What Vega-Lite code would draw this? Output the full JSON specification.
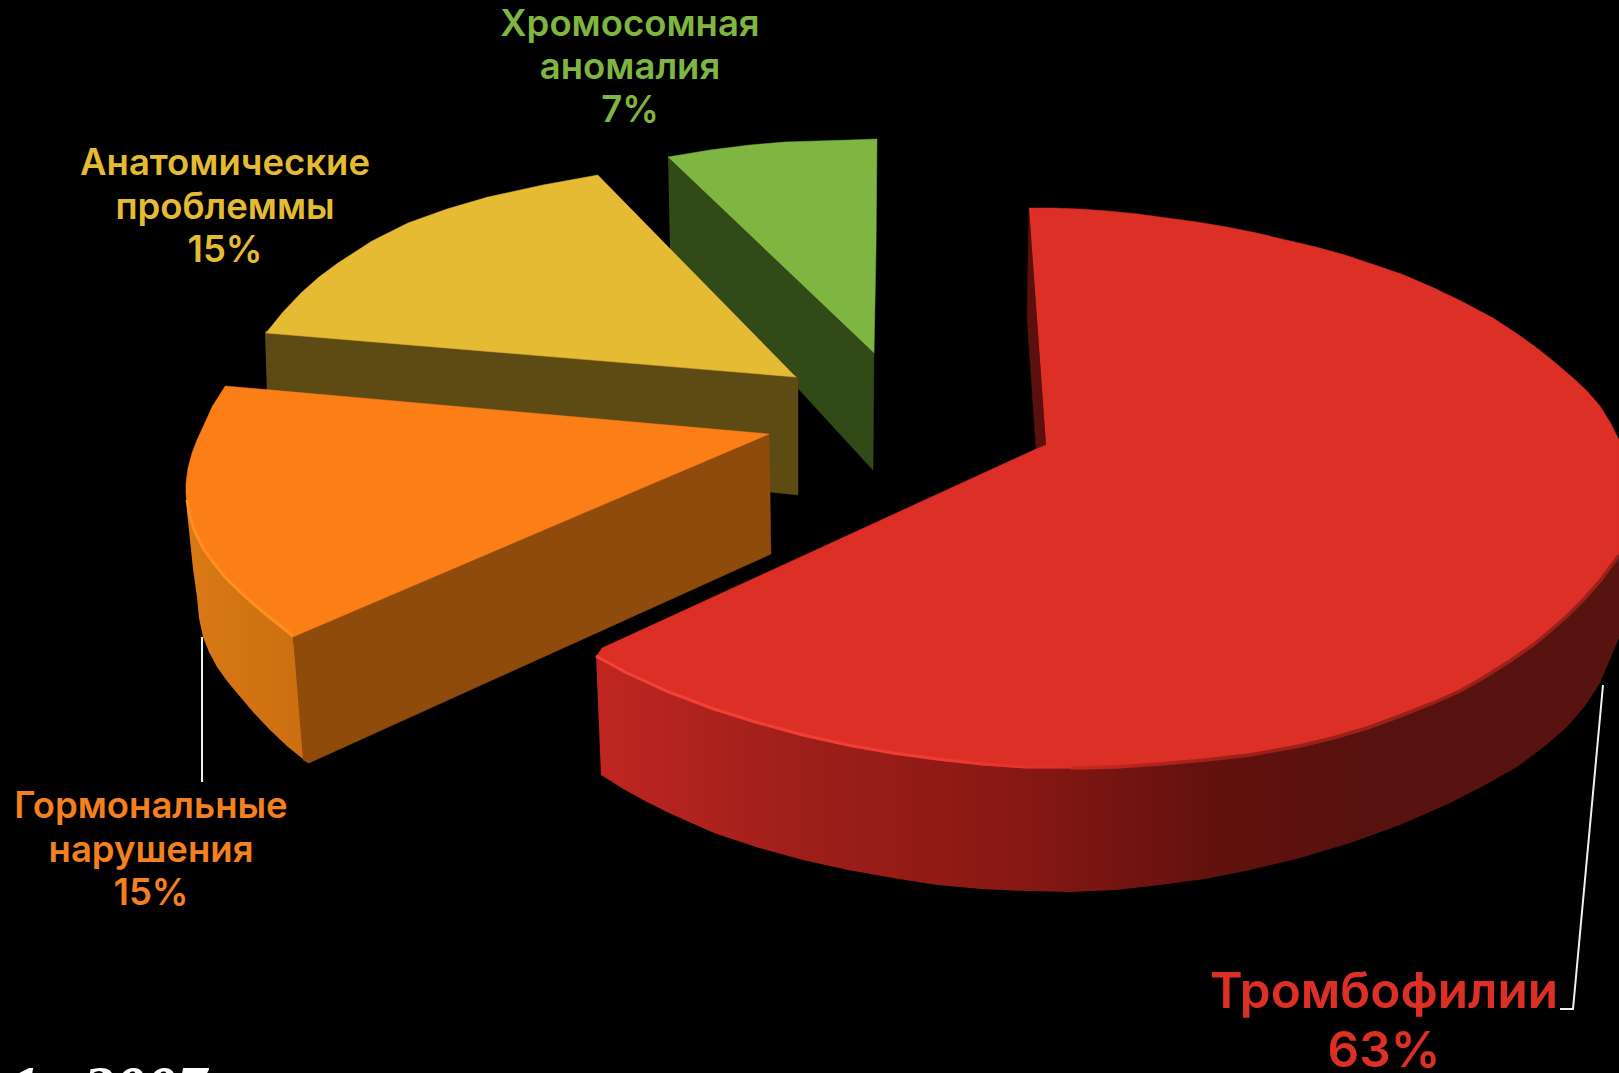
{
"$schema":"https://vega.github.io/schema/vega-lite/v6.json",
"width":1619,"height":1073,"padding":0,"autosize":{"type":"none"},
"background":"#000000",
"config":{"view":{"stroke":null}},
"datasets":{
"outline":[
{"part":"green_side","seq":1,"x":668,"y":156},{"part":"green_side","seq":2,"x":874,"y":352},{"part":"green_side","seq":3,"x":873,"y":470},{"part":"green_side","seq":4,"x":670,"y":249},
{"part":"green_top","seq":1,"x":668,"y":157},{"part":"green_top","seq":2,"x":710,"y":150},{"part":"green_top","seq":3,"x":750,"y":145},{"part":"green_top","seq":4,"x":785,"y":142},{"part":"green_top","seq":5,"x":817,"y":141},{"part":"green_top","seq":6,"x":850,"y":140},{"part":"green_top","seq":7,"x":877,"y":139},{"part":"green_top","seq":8,"x":876,"y":250},{"part":"green_top","seq":9,"x":874,"y":353},
{"part":"yellow_side","seq":1,"x":265,"y":331},{"part":"yellow_side","seq":2,"x":795,"y":375},{"part":"yellow_side","seq":3,"x":798,"y":377},{"part":"yellow_side","seq":4,"x":798,"y":495},{"part":"yellow_side","seq":5,"x":770,"y":492},{"part":"yellow_side","seq":6,"x":267,"y":395},
{"part":"yellow_top","seq":1,"x":598,"y":175},{"part":"yellow_top","seq":2,"x":543,"y":185},{"part":"yellow_top","seq":3,"x":488,"y":197},{"part":"yellow_top","seq":4,"x":447,"y":209},{"part":"yellow_top","seq":5,"x":408,"y":223},{"part":"yellow_top","seq":6,"x":372,"y":241},{"part":"yellow_top","seq":7,"x":338,"y":263},{"part":"yellow_top","seq":8,"x":319,"y":277},{"part":"yellow_top","seq":9,"x":301,"y":293},{"part":"yellow_top","seq":10,"x":283,"y":312},{"part":"yellow_top","seq":11,"x":266,"y":333},{"part":"yellow_top","seq":12,"x":796,"y":377},
{"part":"orange_curve","seq":1,"x":186,"y":483},{"part":"orange_curve","seq":2,"x":187,"y":512},{"part":"orange_curve","seq":3,"x":190,"y":540},{"part":"orange_curve","seq":4,"x":193,"y":569},{"part":"orange_curve","seq":5,"x":197,"y":597},{"part":"orange_curve","seq":6,"x":199,"y":618},{"part":"orange_curve","seq":7,"x":203,"y":637},{"part":"orange_curve","seq":8,"x":209,"y":652},{"part":"orange_curve","seq":9,"x":217,"y":667},{"part":"orange_curve","seq":10,"x":227,"y":681},{"part":"orange_curve","seq":11,"x":237,"y":693},{"part":"orange_curve","seq":12,"x":253,"y":712},{"part":"orange_curve","seq":13,"x":270,"y":730},{"part":"orange_curve","seq":14,"x":288,"y":747},{"part":"orange_curve","seq":15,"x":308,"y":763},{"part":"orange_curve","seq":16,"x":293,"y":637},{"part":"orange_curve","seq":17,"x":263,"y":613},{"part":"orange_curve","seq":18,"x":213,"y":563},
{"part":"orange_flat","seq":1,"x":293,"y":637},{"part":"orange_flat","seq":2,"x":769,"y":434},{"part":"orange_flat","seq":3,"x":771,"y":554},{"part":"orange_flat","seq":4,"x":309,"y":763},{"part":"orange_flat","seq":5,"x":303,"y":760},
{"part":"orange_top","seq":1,"x":225,"y":386},{"part":"orange_top","seq":2,"x":769,"y":434},{"part":"orange_top","seq":3,"x":293,"y":637},{"part":"orange_top","seq":4,"x":278,"y":625},{"part":"orange_top","seq":5,"x":263,"y":613},{"part":"orange_top","seq":6,"x":250,"y":602},{"part":"orange_top","seq":7,"x":237,"y":590},{"part":"orange_top","seq":8,"x":224,"y":577},{"part":"orange_top","seq":9,"x":213,"y":563},{"part":"orange_top","seq":10,"x":203,"y":549},{"part":"orange_top","seq":11,"x":195,"y":533},{"part":"orange_top","seq":12,"x":190,"y":518},{"part":"orange_top","seq":13,"x":187,"y":503},{"part":"orange_top","seq":14,"x":186,"y":493},{"part":"orange_top","seq":15,"x":186,"y":483},{"part":"orange_top","seq":16,"x":188,"y":468},{"part":"orange_top","seq":17,"x":192,"y":453},{"part":"orange_top","seq":18,"x":197,"y":440},{"part":"orange_top","seq":19,"x":203,"y":427},{"part":"orange_top","seq":20,"x":213,"y":405},
{"part":"red_wedge","seq":1,"x":1029,"y":208},{"part":"red_wedge","seq":2,"x":1027,"y":317},{"part":"red_wedge","seq":3,"x":1036,"y":449},{"part":"red_wedge","seq":4,"x":1046,"y":445},
{"part":"red_side","seq":1,"x":596,"y":655},{"part":"red_side","seq":2,"x":714,"y":710},{"part":"red_side","seq":3,"x":848,"y":746},{"part":"red_side","seq":4,"x":982,"y":765},{"part":"red_side","seq":5,"x":1071,"y":768},{"part":"red_side","seq":6,"x":1205,"y":760},{"part":"red_side","seq":7,"x":1300,"y":746},{"part":"red_side","seq":8,"x":1433,"y":703},{"part":"red_side","seq":9,"x":1533,"y":645},{"part":"red_side","seq":10,"x":1600,"y":581},{"part":"red_side","seq":11,"x":1619,"y":555},{"part":"red_side","seq":12,"x":1619,"y":638},{"part":"red_side","seq":13,"x":1600,"y":683},{"part":"red_side","seq":14,"x":1585,"y":706},{"part":"red_side","seq":15,"x":1567,"y":727},{"part":"red_side","seq":16,"x":1545,"y":746},{"part":"red_side","seq":17,"x":1517,"y":767},{"part":"red_side","seq":18,"x":1485,"y":785},{"part":"red_side","seq":19,"x":1450,"y":803},{"part":"red_side","seq":20,"x":1400,"y":825},{"part":"red_side","seq":21,"x":1350,"y":843},{"part":"red_side","seq":22,"x":1300,"y":858},{"part":"red_side","seq":23,"x":1250,"y":870},{"part":"red_side","seq":24,"x":1205,"y":879},{"part":"red_side","seq":25,"x":1160,"y":885},{"part":"red_side","seq":26,"x":1116,"y":890},{"part":"red_side","seq":27,"x":1071,"y":892},{"part":"red_side","seq":28,"x":1026,"y":891},{"part":"red_side","seq":29,"x":982,"y":889},{"part":"red_side","seq":30,"x":937,"y":885},{"part":"red_side","seq":31,"x":893,"y":878},{"part":"red_side","seq":32,"x":848,"y":870},{"part":"red_side","seq":33,"x":803,"y":860},{"part":"red_side","seq":34,"x":759,"y":848},{"part":"red_side","seq":35,"x":714,"y":833},{"part":"red_side","seq":36,"x":669,"y":813},{"part":"red_side","seq":37,"x":647,"y":802},{"part":"red_side","seq":38,"x":625,"y":790},{"part":"red_side","seq":39,"x":601,"y":775},
{"part":"red_top","seq":1,"x":1029,"y":208},{"part":"red_top","seq":2,"x":1054,"y":208},{"part":"red_top","seq":3,"x":1079,"y":209},{"part":"red_top","seq":4,"x":1108,"y":211},{"part":"red_top","seq":5,"x":1138,"y":214},{"part":"red_top","seq":6,"x":1167,"y":218},{"part":"red_top","seq":7,"x":1197,"y":222},{"part":"red_top","seq":8,"x":1227,"y":227},{"part":"red_top","seq":9,"x":1257,"y":233},{"part":"red_top","seq":10,"x":1286,"y":240},{"part":"red_top","seq":11,"x":1316,"y":247},{"part":"red_top","seq":12,"x":1345,"y":255},{"part":"red_top","seq":13,"x":1375,"y":265},{"part":"red_top","seq":14,"x":1404,"y":275},{"part":"red_top","seq":15,"x":1434,"y":288},{"part":"red_top","seq":16,"x":1463,"y":302},{"part":"red_top","seq":17,"x":1493,"y":318},{"part":"red_top","seq":18,"x":1513,"y":331},{"part":"red_top","seq":19,"x":1533,"y":345},{"part":"red_top","seq":20,"x":1552,"y":360},{"part":"red_top","seq":21,"x":1572,"y":377},{"part":"red_top","seq":22,"x":1587,"y":391},{"part":"red_top","seq":23,"x":1600,"y":406},{"part":"red_top","seq":24,"x":1610,"y":422},{"part":"red_top","seq":25,"x":1619,"y":440},{"part":"red_top","seq":26,"x":1619,"y":555},{"part":"red_top","seq":27,"x":1600,"y":581},{"part":"red_top","seq":28,"x":1585,"y":598},{"part":"red_top","seq":29,"x":1567,"y":616},{"part":"red_top","seq":30,"x":1550,"y":631},{"part":"red_top","seq":31,"x":1533,"y":645},{"part":"red_top","seq":32,"x":1510,"y":661},{"part":"red_top","seq":33,"x":1483,"y":678},{"part":"red_top","seq":34,"x":1460,"y":691},{"part":"red_top","seq":35,"x":1433,"y":703},{"part":"red_top","seq":36,"x":1400,"y":716},{"part":"red_top","seq":37,"x":1367,"y":728},{"part":"red_top","seq":38,"x":1333,"y":738},{"part":"red_top","seq":39,"x":1300,"y":746},{"part":"red_top","seq":40,"x":1250,"y":755},{"part":"red_top","seq":41,"x":1205,"y":760},{"part":"red_top","seq":42,"x":1160,"y":764},{"part":"red_top","seq":43,"x":1116,"y":767},{"part":"red_top","seq":44,"x":1071,"y":768},{"part":"red_top","seq":45,"x":1026,"y":768},{"part":"red_top","seq":46,"x":982,"y":765},{"part":"red_top","seq":47,"x":937,"y":760},{"part":"red_top","seq":48,"x":893,"y":754},{"part":"red_top","seq":49,"x":848,"y":746},{"part":"red_top","seq":50,"x":803,"y":736},{"part":"red_top","seq":51,"x":759,"y":724},{"part":"red_top","seq":52,"x":714,"y":710},{"part":"red_top","seq":53,"x":669,"y":693},{"part":"red_top","seq":54,"x":625,"y":673},{"part":"red_top","seq":55,"x":596,"y":657},{"part":"red_top","seq":56,"x":602,"y":648},{"part":"red_top","seq":57,"x":1036,"y":449},{"part":"red_top","seq":58,"x":1046,"y":445},
{"part":"red_lip","seq":1,"x":596,"y":656},{"part":"red_lip","seq":2,"x":625,"y":672},{"part":"red_lip","seq":3,"x":669,"y":692},{"part":"red_lip","seq":4,"x":714,"y":709},{"part":"red_lip","seq":5,"x":759,"y":723},{"part":"red_lip","seq":6,"x":803,"y":735},{"part":"red_lip","seq":7,"x":848,"y":745},{"part":"red_lip","seq":8,"x":893,"y":753},{"part":"red_lip","seq":9,"x":937,"y":759},{"part":"red_lip","seq":10,"x":982,"y":764},{"part":"red_lip","seq":11,"x":1026,"y":767},{"part":"red_lip","seq":12,"x":1071,"y":767},
{"part":"red_shade","seq":1,"x":1071,"y":768},{"part":"red_shade","seq":2,"x":1116,"y":767},{"part":"red_shade","seq":3,"x":1160,"y":764},{"part":"red_shade","seq":4,"x":1205,"y":760},{"part":"red_shade","seq":5,"x":1250,"y":755},{"part":"red_shade","seq":6,"x":1300,"y":746},{"part":"red_shade","seq":7,"x":1333,"y":738},{"part":"red_shade","seq":8,"x":1367,"y":728},{"part":"red_shade","seq":9,"x":1400,"y":716},{"part":"red_shade","seq":10,"x":1433,"y":703},{"part":"red_shade","seq":11,"x":1460,"y":691},{"part":"red_shade","seq":12,"x":1483,"y":678},{"part":"red_shade","seq":13,"x":1510,"y":661},{"part":"red_shade","seq":14,"x":1533,"y":645},{"part":"red_shade","seq":15,"x":1550,"y":631},{"part":"red_shade","seq":16,"x":1567,"y":616},{"part":"red_shade","seq":17,"x":1585,"y":598},{"part":"red_shade","seq":18,"x":1600,"y":581},{"part":"red_shade","seq":19,"x":1619,"y":555},
{"part":"orange_lip","seq":1,"x":187,"y":500},{"part":"orange_lip","seq":2,"x":190,"y":517},{"part":"orange_lip","seq":3,"x":195,"y":532},{"part":"orange_lip","seq":4,"x":203,"y":548},{"part":"orange_lip","seq":5,"x":213,"y":562},{"part":"orange_lip","seq":6,"x":224,"y":576},{"part":"orange_lip","seq":7,"x":237,"y":589},{"part":"orange_lip","seq":8,"x":250,"y":601},{"part":"orange_lip","seq":9,"x":263,"y":612},{"part":"orange_lip","seq":10,"x":278,"y":624},{"part":"orange_lip","seq":11,"x":293,"y":636},
{"part":"leader_orange","seq":1,"x":202,"y":637},{"part":"leader_orange","seq":2,"x":202,"y":782},
{"part":"leader_red","seq":1,"x":1603,"y":685},{"part":"leader_red","seq":2,"x":1573,"y":1009},{"part":"leader_red","seq":3,"x":1560,"y":1009}
],
"labels":[
{"category":"Хромосомная аномалия","text":"Хромосомная","x":630,"y":36},
{"category":"Хромосомная аномалия","text":"аномалия","x":630,"y":79},
{"category":"Хромосомная аномалия","text":"7%","x":630,"y":122},
{"category":"Анатомические проблеммы","text":"Анатомические","x":225,"y":175},
{"category":"Анатомические проблеммы","text":"проблеммы","x":225,"y":219},
{"category":"Анатомические проблеммы","text":"15%","x":225,"y":262},
{"category":"Гормональные нарушения","text":"Гормональные","x":151,"y":818},
{"category":"Гормональные нарушения","text":"нарушения","x":151,"y":862},
{"category":"Гормональные нарушения","text":"15%","x":151,"y":905},
{"category":"Тромбофилии","text":"Тромбофилии","x":1384,"y":1008},
{"category":"Тромбофилии","text":"63%","x":1384,"y":1067}
],
"source":[{"text":"1,","x":9,"y":1108},{"text":"2007","x":83,"y":1108}]
},
"layer":[
{"data":{"name":"outline"},"transform":[{"filter":"datum.part==='green_side'"}],"mark":{"type":"line","fill":"#324a17","stroke":"#324a17","strokeWidth":0.5},"encoding":{"x":{"field":"x","type":"quantitative","scale":{"domain":[0,1619],"nice":false,"zero":false},"axis":null},"y":{"field":"y","type":"quantitative","scale":{"domain":[1073,0],"nice":false,"zero":false},"axis":null},"order":{"field":"seq"}}},
{"data":{"name":"outline"},"transform":[{"filter":"datum.part==='green_top'"}],"mark":{"type":"line","fill":"#7fb541","stroke":"#7fb541","strokeWidth":0.5},"encoding":{"x":{"field":"x","type":"quantitative","axis":null},"y":{"field":"y","type":"quantitative","axis":null},"order":{"field":"seq"}}},
{"data":{"name":"outline"},"transform":[{"filter":"datum.part==='yellow_side'"}],"mark":{"type":"line","fill":"#5e4b14","stroke":"#5e4b14","strokeWidth":0.5},"encoding":{"x":{"field":"x","type":"quantitative","axis":null},"y":{"field":"y","type":"quantitative","axis":null},"order":{"field":"seq"}}},
{"data":{"name":"outline"},"transform":[{"filter":"datum.part==='yellow_top'"}],"mark":{"type":"line","fill":"#e5bb33","stroke":"#e5bb33","strokeWidth":0.5},"encoding":{"x":{"field":"x","type":"quantitative","axis":null},"y":{"field":"y","type":"quantitative","axis":null},"order":{"field":"seq"}}},
{"data":{"name":"outline"},"transform":[{"filter":"datum.part==='orange_curve'"}],"mark":{"type":"line","stroke":"#000000","strokeOpacity":0,"fill":{"gradient":"linear","x1":0,"x2":1,"y1":0,"y2":0,"stops":[{"offset":0,"color":"#d97a16"},{"offset":1,"color":"#cc6d10"}]}},"encoding":{"x":{"field":"x","type":"quantitative","axis":null},"y":{"field":"y","type":"quantitative","axis":null},"order":{"field":"seq"}}},
{"data":{"name":"outline"},"transform":[{"filter":"datum.part==='orange_flat'"}],"mark":{"type":"line","fill":"#8f4b0c","stroke":"#8f4b0c","strokeWidth":0.5},"encoding":{"x":{"field":"x","type":"quantitative","axis":null},"y":{"field":"y","type":"quantitative","axis":null},"order":{"field":"seq"}}},
{"data":{"name":"outline"},"transform":[{"filter":"datum.part==='orange_top'"}],"mark":{"type":"line","fill":"#fb7f16","stroke":"#fb7f16","strokeWidth":0.5},"encoding":{"x":{"field":"x","type":"quantitative","axis":null},"y":{"field":"y","type":"quantitative","axis":null},"order":{"field":"seq"}}},
{"data":{"name":"outline"},"transform":[{"filter":"datum.part==='orange_lip'"}],"mark":{"type":"line","stroke":"#fd9020","strokeWidth":3},"encoding":{"x":{"field":"x","type":"quantitative","axis":null},"y":{"field":"y","type":"quantitative","axis":null},"order":{"field":"seq"}}},
{"data":{"name":"outline"},"transform":[{"filter":"datum.part==='red_wedge'"}],"mark":{"type":"line","fill":"#5a100d","stroke":"#5a100d","strokeWidth":0.5},"encoding":{"x":{"field":"x","type":"quantitative","axis":null},"y":{"field":"y","type":"quantitative","axis":null},"order":{"field":"seq"}}},
{"data":{"name":"outline"},"transform":[{"filter":"datum.part==='red_side'"}],"mark":{"type":"line","stroke":"#000000","strokeOpacity":0,"fill":{"gradient":"linear","x1":0,"x2":1,"y1":0,"y2":0,"stops":[{"offset":0,"color":"#c02621"},{"offset":0.2,"color":"#9e1f1a"},{"offset":0.4,"color":"#8a1814"},{"offset":0.6,"color":"#63110e"},{"offset":0.75,"color":"#57110e"},{"offset":1,"color":"#58120f"}]}},"encoding":{"x":{"field":"x","type":"quantitative","axis":null},"y":{"field":"y","type":"quantitative","axis":null},"order":{"field":"seq"}}},
{"data":{"name":"outline"},"transform":[{"filter":"datum.part==='red_top'"}],"mark":{"type":"line","fill":"#dc2f26","stroke":"#dc2f26","strokeWidth":0.5},"encoding":{"x":{"field":"x","type":"quantitative","axis":null},"y":{"field":"y","type":"quantitative","axis":null},"order":{"field":"seq"}}},
{"data":{"name":"outline"},"transform":[{"filter":"datum.part==='red_lip'"}],"mark":{"type":"line","strokeWidth":3,"stroke":{"gradient":"linear","x1":0,"x2":1,"y1":0,"y2":0,"stops":[{"offset":0,"color":"#f2423a"},{"offset":0.7,"color":"#ee3d34"},{"offset":1,"color":"#dc2f26"}]}},"encoding":{"x":{"field":"x","type":"quantitative","axis":null},"y":{"field":"y","type":"quantitative","axis":null},"order":{"field":"seq"}}},
{"data":{"name":"outline"},"transform":[{"filter":"datum.part==='red_shade'"}],"mark":{"type":"line","strokeWidth":3.5,"stroke":{"gradient":"linear","x1":0,"x2":1,"y1":0,"y2":0,"stops":[{"offset":0,"color":"#c8281f"},{"offset":0.3,"color":"#9a2019"},{"offset":1,"color":"#9a2019"}]}},"encoding":{"x":{"field":"x","type":"quantitative","axis":null},"y":{"field":"y","type":"quantitative","axis":null},"order":{"field":"seq"}}},
{"data":{"name":"outline"},"transform":[{"filter":"datum.part==='leader_orange'"}],"mark":{"type":"line","stroke":"#f0f0f0","strokeWidth":2},"encoding":{"x":{"field":"x","type":"quantitative","axis":null},"y":{"field":"y","type":"quantitative","axis":null},"order":{"field":"seq"}}},
{"data":{"name":"outline"},"transform":[{"filter":"datum.part==='leader_red'"}],"mark":{"type":"line","stroke":"#f0f0f0","strokeWidth":2},"encoding":{"x":{"field":"x","type":"quantitative","axis":null},"y":{"field":"y","type":"quantitative","axis":null},"order":{"field":"seq"}}},
{"data":{"name":"labels"},"transform":[{"filter":"datum.category!=='Тромбофилии'"}],"mark":{"type":"text","font":"Inter","fontSize":36.5,"fontWeight":600,"align":"center","baseline":"alphabetic"},"encoding":{"x":{"field":"x","type":"quantitative","axis":null},"y":{"field":"y","type":"quantitative","axis":null},"text":{"field":"text"},"color":{"field":"category","type":"nominal","legend":null,"scale":{"domain":["Хромосомная аномалия","Анатомические проблеммы","Гормональные нарушения","Тромбофилии"],"range":["#7fb541","#e5bb33","#f48020","#dc2f26"]}}}},
{"data":{"name":"labels"},"transform":[{"filter":"datum.category==='Тромбофилии'"}],"mark":{"type":"text","font":"Inter","fontSize":49.5,"fontWeight":600,"align":"center","baseline":"alphabetic"},"encoding":{"x":{"field":"x","type":"quantitative","axis":null},"y":{"field":"y","type":"quantitative","axis":null},"text":{"field":"text"},"color":{"field":"category","type":"nominal","legend":null}}},
{"data":{"name":"source"},"mark":{"type":"text","font":"Liberation Serif","fontStyle":"italic","fontWeight":"bold","fontSize":62,"align":"left","baseline":"alphabetic","color":"#ffffff"},"encoding":{"x":{"field":"x","type":"quantitative","axis":null},"y":{"field":"y","type":"quantitative","axis":null},"text":{"field":"text"}}}
]
}
